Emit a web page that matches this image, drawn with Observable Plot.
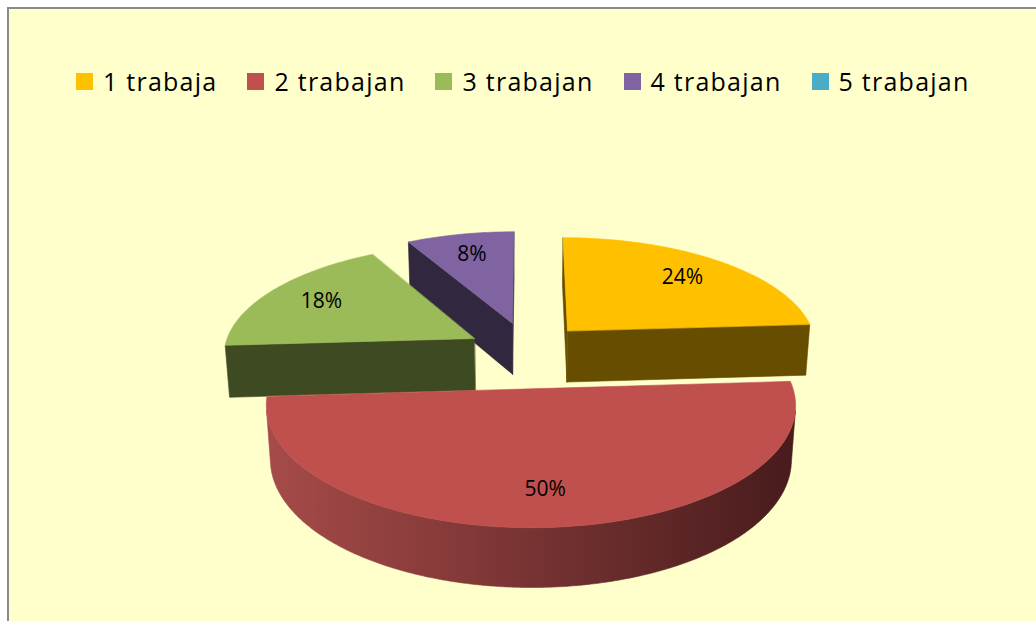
<!DOCTYPE html>
<html>
<head>
<meta charset="utf-8">
<script src="https://cdn.jsdelivr.net/npm/d3@7"></script>
<script src="https://cdn.jsdelivr.net/npm/@observablehq/plot@0.6"></script>
<style>
html,body{margin:0;padding:0;width:1036px;height:621px;overflow:hidden;background:#ffffff;}
#frame{position:absolute;left:7px;top:7px;width:1100px;height:700px;background:#FFFFCC;border-left:2px solid #8a8a8a;border-top:2px solid #8a8a8a;}
#legend{position:absolute;left:76px;top:64px;display:flex;align-items:center;font-family:"Open Sans",sans-serif;font-size:25px;line-height:34px;letter-spacing:1.25px;color:#000;white-space:nowrap;}
.item{display:flex;align-items:center;margin-right:30px;}
.sw{width:17px;height:17px;margin-right:10px;flex:none;}
#chart{position:absolute;left:0;top:0;}
</style>
</head>
<body>
<div id="frame"></div>
<div id="legend"></div>
<div id="chart"></div>
<script>
// ---- data ----
const categories = ["1 trabaja", "2 trabajan", "3 trabajan", "4 trabajan", "5 trabajan"];
const values = [24, 50, 18, 8, 0];
const labels = ["24%", "50%", "18%", "8%", "0%"];

// ---- styles ----
const topColors  = ["#FFC000", "#C0504D", "#9BBB59", "#8064A2", "#4BACC6"];
const sideColors = ["#664D00", "#7A2E2D", "#3E4A22", "#312840", "#1E4A57"];
const sideLight  = ["#7A5C00", "#A64B49", "#4A5829", "#3B304D", "#2A5F6E"];
const sideDark   = ["#4A3800", "#481B1C", "#2C3518", "#231C2E", "#153540"];

// ---- view (3D perspective pie) ----
const W = 1036, H = 621;
const cx = 526.4, cy = 353.8, B = 252, sinA = 0.44, cosA = 0.898, D = 6.9;
const thick = 0.235, explodeX = 0.242, explodeZ = 0.30, labelR = 0.75;
const cam = [0, D * sinA, -D * cosA];

function proj(x, y, z) {
  const yc = y * cosA + z * sinA;
  const zc = 1 + (z * cosA - y * sinA) / D;
  return [cx + B * x / zc, cy - B * yc / zc];
}
function visible(n, p) {
  return n[0] * (cam[0] - p[0]) + n[1] * (cam[1] - p[1]) + n[2] * (cam[2] - p[2]) > 0;
}

const arcs = d3.pie().sort(null).value(d => d)(values);
const slices = arcs.map((a, i) => {
  const mid = (a.startAngle + a.endAngle) / 2;
  return {i, a0: a.startAngle, a1: a.endAngle, mid,
    ox: explodeX * Math.sin(mid), oz: explodeZ * Math.cos(mid)};
}).filter(s => values[s.i] > 0);

slices.sort((p, q) => q.oz - p.oz); // back to front

const faceRows = [];
const gradients = [];
let fid = 0;
function addFace(pts3, fill) {
  const id = fid++;
  pts3.forEach(p => { const [x, y] = proj(p[0], p[1], p[2]); faceRows.push({id, x, y, fill}); });
}
const rim = (s, t, y) => [s.ox + Math.sin(t), y, s.oz + Math.cos(t)];

for (const s of slices) {
  const apexT = [s.ox, 0, s.oz], apexB = [s.ox, -thick, s.oz];
  // radial face at start edge
  {
    const n = [-Math.cos(s.a0), 0, Math.sin(s.a0)];
    const c = [s.ox + 0.5 * Math.sin(s.a0), -thick / 2, s.oz + 0.5 * Math.cos(s.a0)];
    if (visible(n, c)) addFace([apexT, rim(s, s.a0, 0), rim(s, s.a0, -thick), apexB], sideColors[s.i]);
  }
  // radial face at end edge
  {
    const n = [Math.cos(s.a1), 0, -Math.sin(s.a1)];
    const c = [s.ox + 0.5 * Math.sin(s.a1), -thick / 2, s.oz + 0.5 * Math.cos(s.a1)];
    if (visible(n, c)) addFace([apexT, rim(s, s.a1, 0), rim(s, s.a1, -thick), apexB], sideColors[s.i]);
  }
  // curved outer side: visible angular runs, each one polygon with a horizontal gradient
  const steps = Math.max(8, Math.ceil((s.a1 - s.a0) / (Math.PI / 360)));
  const vis = [];
  for (let k = 0; k <= steps; k++) {
    const t = s.a0 + (s.a1 - s.a0) * k / steps;
    vis.push({t, v: visible([Math.sin(t), 0, Math.cos(t)], rim(s, t, -thick / 2))});
  }
  let run = [];
  const flush = () => {
    if (run.length > 1) {
      const topPts = run.map(t => rim(s, t, 0));
      const botPts = run.map(t => rim(s, t, -thick)).reverse();
      const xs = topPts.concat(botPts).map(p => proj(...p)[0]);
      const gid = "side" + s.i + "_" + gradients.length;
      gradients.push({id: gid, x1: d3.min(xs), x2: d3.max(xs), c1: sideLight[s.i], c2: sideDark[s.i]});
      addFace(topPts.concat(botPts), `url(#${gid})`);
    }
    run = [];
  };
  for (const d of vis) { if (d.v) run.push(d.t); else flush(); }
  flush();
  // top face
  const top = [apexT];
  const tsteps = Math.max(4, Math.ceil((s.a1 - s.a0) / (Math.PI / 180)));
  for (let k = 0; k <= tsteps; k++) top.push(rim(s, s.a0 + (s.a1 - s.a0) * k / tsteps, 0));
  addFace(top, topColors[s.i]);
}

const labelRows = slices.map(s => {
  const [x, y] = proj(s.ox + labelR * Math.sin(s.mid), 0, s.oz + labelR * Math.cos(s.mid));
  return {x, y, text: labels[s.i]};
});

const chart = Plot.plot({
  width: W, height: H, margin: 0,
  x: {domain: [0, W], range: [0, W], axis: null},
  y: {domain: [0, H], range: [0, H], axis: null},
  color: {type: "identity"},
  style: {background: "transparent", overflow: "visible"},
  marks: [
    Plot.line(faceRows, {x: "x", y: "y", z: "id", fill: "fill", stroke: "fill", strokeWidth: 0.6, curve: "linear-closed"}),
    Plot.text(labelRows, {x: "x", y: "y", text: "text", fontSize: 21, fontFamily: "Open Sans", fill: "#000"})
  ]
});

// gradient definitions for the curved sides
const defs = d3.select(chart).insert("defs", ":first-child");
gradients.forEach(g => {
  const lg = defs.append("linearGradient").attr("id", g.id)
    .attr("gradientUnits", "userSpaceOnUse")
    .attr("x1", g.x1).attr("x2", g.x2).attr("y1", 0).attr("y2", 0);
  lg.append("stop").attr("offset", 0).attr("stop-color", g.c1);
  lg.append("stop").attr("offset", 1).attr("stop-color", g.c2);
});
document.getElementById("chart").appendChild(chart);

// legend
const legend = d3.select("#legend");
categories.forEach((c, i) => {
  const it = legend.append("div").attr("class", "item");
  it.append("div").attr("class", "sw").style("background", topColors[i]);
  it.append("span").text(c);
});
</script>
</body>
</html>
